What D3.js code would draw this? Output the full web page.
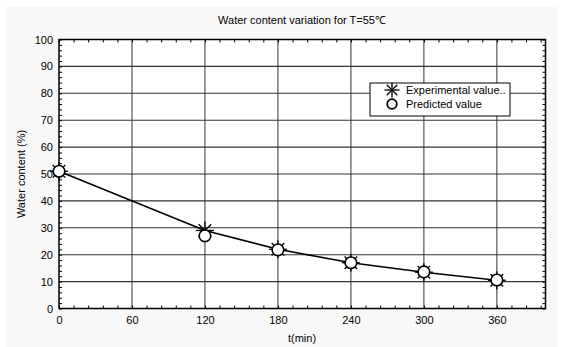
<!DOCTYPE html>
<html>
<head>
<meta charset="utf-8">
<script src="https://cdn.jsdelivr.net/npm/d3@7"></script>
<style>
  body { margin: 0; background: #fff; }
  text { font-family: "Liberation Sans", Arial, sans-serif; fill: #000; }
</style>
</head>
<body>
<svg id="chart" width="562" height="347"></svg>
<script>
// data
const times = [0, 120, 180, 240, 300, 360];
const experimental = [51, 29, 22, 17, 13.5, 10.5];
const predicted = [51, 27, 21.8, 17, 13.6, 10.6];
const xTicks = [0, 60, 120, 180, 240, 300, 360];
const yTicks = [0, 10, 20, 30, 40, 50, 60, 70, 80, 90, 100];
const legendLabels = ["Experimental value..", "Predicted value"];

const svg = d3.select("#chart");
const W = 562, H = 347;
const M = {left: 59, right: 16.5, top: 39.5, bottom: 38.5};
const iw = W - M.left - M.right, ih = H - M.top - M.bottom;

svg.append("rect").attr("x", 6).attr("y", 7).attr("width", 552).attr("height", 340).attr("fill", "#f8f8f8");

const x = d3.scaleLinear().domain([0, 400]).range([M.left, M.left + iw]);
const y = d3.scaleLinear().domain([0, 100]).range([M.top + ih, M.top]);

const g = svg.append("g");
g.append("rect").attr("x", M.left).attr("y", M.top).attr("width", iw).attr("height", ih).attr("fill", "#fff");

// grid
g.selectAll(".vg").data(xTicks.slice(1)).join("line")
  .attr("x1", d => x(d)).attr("x2", d => x(d)).attr("y1", M.top).attr("y2", M.top + ih)
  .attr("stroke", "#555").attr("stroke-width", 1.2);
g.selectAll(".hg").data(yTicks.slice(1)).join("line")
  .attr("x1", M.left).attr("x2", M.left + iw).attr("y1", d => y(d)).attr("y2", d => y(d))
  .attr("stroke", "#333").attr("stroke-width", 1.1);

// axes with inward minor ticks
const minorX = d3.range(0, 401, 12);
const minorY = d3.range(0, 101, 2);
const tickLen = 3;
svg.append("g").attr("transform", `translate(0,${M.top + ih})`)
  .call(d3.axisTop(x).tickValues(minorX).tickSize(tickLen).tickFormat(""))
  .call(a => a.select(".domain").remove());
svg.append("g").attr("transform", `translate(0,${M.top})`)
  .call(d3.axisBottom(x).tickValues(minorX).tickSize(tickLen).tickFormat(""))
  .call(a => a.select(".domain").remove());
svg.append("g").attr("transform", `translate(${M.left},0)`)
  .call(d3.axisRight(y).tickValues(minorY).tickSize(tickLen).tickFormat(""))
  .call(a => a.select(".domain").remove());
svg.append("g").attr("transform", `translate(${M.left + iw},0)`)
  .call(d3.axisLeft(y).tickValues(minorY).tickSize(tickLen).tickFormat(""))
  .call(a => a.select(".domain").remove());

// tick labels
svg.append("g").attr("transform", `translate(0,${M.top + ih})`)
  .call(d3.axisBottom(x).tickValues(xTicks).tickSize(0).tickPadding(8))
  .call(a => a.select(".domain").remove())
  .selectAll("text").attr("font-size", 11).attr("font-family", "Liberation Sans, Arial, sans-serif");
svg.append("g").attr("transform", `translate(${M.left},0)`)
  .call(d3.axisLeft(y).tickValues(yTicks).tickSize(0).tickPadding(6))
  .call(a => a.select(".domain").remove())
  .selectAll("text").attr("font-size", 11).attr("font-family", "Liberation Sans, Arial, sans-serif");

// frame
svg.append("rect").attr("x", M.left).attr("y", M.top).attr("width", iw).attr("height", ih)
  .attr("fill", "none").attr("stroke", "#000").attr("stroke-width", 1.5);

// line through experimental points
const line = d3.line().x((d, i) => x(times[i])).y(d => y(d));
svg.append("path").datum(experimental).attr("d", line)
  .attr("fill", "none").attr("stroke", "#000").attr("stroke-width", 1.6);

function star(sel, r) {
  const segs = [[-r, 0, r, 0], [0, -r, 0, r], [-r * 0.7, -r * 0.7, r * 0.7, r * 0.7], [-r * 0.7, r * 0.7, r * 0.7, -r * 0.7]];
  segs.forEach(s => sel.append("line").attr("x1", s[0]).attr("y1", s[1]).attr("x2", s[2]).attr("y2", s[3])
    .attr("stroke", "#000").attr("stroke-width", 1.3));
}

// experimental stars
svg.selectAll(".st").data(experimental).join("g")
  .attr("transform", (d, i) => `translate(${x(times[i])},${y(d)})`)
  .each(function () { star(d3.select(this), 9); });

// predicted circles
svg.selectAll(".pc").data(predicted).join("circle")
  .attr("cx", (d, i) => x(times[i])).attr("cy", d => y(d)).attr("r", 5.8)
  .attr("fill", "#fff").attr("stroke", "#000").attr("stroke-width", 1.6);

// legend
const lg = svg.append("g").attr("transform", "translate(370,83)");
lg.append("rect").attr("width", 140).attr("height", 33).attr("fill", "#fff")
  .attr("stroke", "#000").attr("stroke-width", 1);
const s = lg.append("g").attr("transform", "translate(22,7)");
star(s, 7.5);
lg.append("circle").attr("cx", 22).attr("cy", 21).attr("r", 4.8)
  .attr("fill", "#fff").attr("stroke", "#000").attr("stroke-width", 1.8);
lg.selectAll(".lt").data(legendLabels).join("text")
  .attr("x", 36).attr("y", (d, i) => 11 + i * 14).attr("font-size", 11).text(d => d);

// titles
svg.append("text").attr("x", 302).attr("y", 24).attr("text-anchor", "middle").attr("font-size", 11)
  .text("Water content variation for T=55℃");
svg.append("text").attr("x", 302).attr("y", 342).attr("text-anchor", "middle").attr("font-size", 11)
  .text("t(min)");
svg.append("text").attr("transform", "translate(25,174) rotate(-90)").attr("text-anchor", "middle")
  .attr("font-size", 11).text("Water content (%)");
</script>
</body>
</html>
